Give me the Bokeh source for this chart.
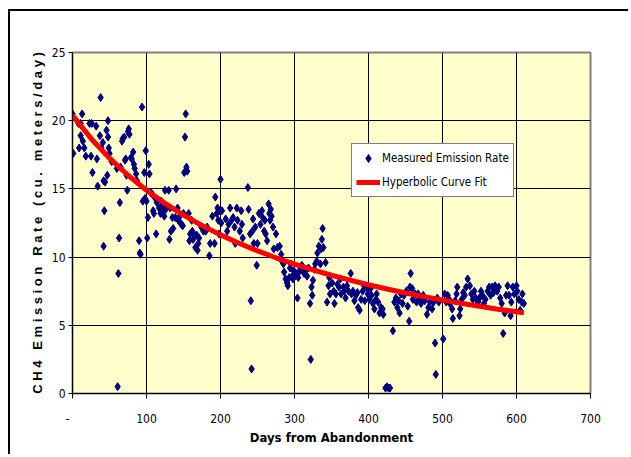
from bokeh.plotting import figure
from bokeh.models import Range1d, FixedTicker, Legend, LegendItem
from bokeh.embed import file_html
from bokeh.resources import INLINE

# ---- data ----
days = [
    0, 1, 8, 11, 13, 11, 14, 9, 16, 18,
    23, 26, 32, 25, 27, 33, 34, 37, 38, 39,
    41, 42, 42, 43, 44, 46, 48, 48, 49, 47,
    50, 53, 60, 61, 62, 63, 64, 65, 67, 68,
    70, 71, 72, 73, 74, 75, 76, 77, 79, 80,
    82, 83, 84, 86, 87, 90, 91, 92, 94, 95,
    97, 98, 99, 100, 101, 102, 103, 104, 106, 108,
    109, 110, 112, 113, 114, 117, 119, 120, 121, 122,
    124, 125, 126, 130, 131, 132, 133, 135, 136, 139,
    140, 142, 143, 144, 146, 147, 149, 150, 151, 152,
    153, 154, 155, 157, 158, 159, 161, 162, 163, 164,
    166, 168, 169, 170, 171, 174, 177, 180, 182, 185,
    186, 189, 192, 193, 195, 196, 197, 198, 199, 200,
    201, 202, 207, 209, 211, 213, 215, 217, 219, 220,
    222, 223, 226, 228, 229, 230, 237, 238, 240, 241,
    242, 243, 244, 245, 247, 249, 250, 252, 254, 256,
    257, 259, 260, 261, 263, 265, 266, 267, 268, 269,
    271, 272, 275, 277, 280, 282, 283, 285, 286, 288,
    290, 291, 293, 294, 295, 297, 298, 299, 302, 304,
    305, 306, 308, 310, 312, 313, 316, 317, 319, 321,
    322, 323, 324, 325, 327, 328, 330, 331, 333, 335,
    336, 337, 338, 339, 342, 344, 346, 347, 348, 351,
    353, 354, 356, 358, 360, 362, 363, 366, 367, 369,
    371, 373, 376, 377, 379, 381, 383, 385, 386, 388,
    390, 392, 394, 395, 397, 399, 401, 403, 404, 406,
    408, 410, 411, 413, 415, 417, 419, 420, 423, 425,
    427, 429, 433, 435, 437, 439, 441, 442, 444, 446,
    448, 451, 453, 455, 456, 457, 459, 460, 463, 465,
    467, 469, 471, 474, 476, 479, 481, 483, 486, 488,
    490, 491, 493, 495, 501, 503, 505, 507, 509, 510,
    513, 514, 517, 519, 520, 523, 524, 526, 528, 530,
    532, 534, 537, 539, 541, 543, 545, 548, 550, 552,
    554, 556, 558, 561, 563, 565, 567, 569, 571, 574,
    576, 578, 580, 582, 584, 586, 588, 590, 592, 593,
    595, 597, 600, 601, 603, 605, 607, 608, 610,
]
rates = [
    20.5, 17.6, 19.8, 19.8, 20.5, 18.9, 18.5, 18.0, 18.0, 17.4,
    19.8, 19.8, 19.6, 17.4, 16.2, 17.2, 15.2, 18.9, 21.7, 18.0,
    18.4, 15.6, 10.8, 13.4, 15.5, 19.3, 20.0, 18.8, 18.0, 16.0,
    17.6, 17.0, 16.5, 0.5, 8.8, 11.4, 14.0, 16.6, 18.5, 18.7,
    18.8, 17.1, 17.2, 16.0, 14.9, 19.2, 19.4, 19.0, 17.3, 17.2,
    17.7, 16.8, 16.5, 16.1, 15.6, 11.2, 10.3, 10.2, 21.0, 14.1,
    16.2, 14.3, 17.8, 14.1, 11.4, 12.9, 16.8, 16.1, 14.7, 14.6,
    13.4, 13.2, 14.3, 11.7, 14.0, 13.6, 13.2, 14.1, 13.4, 13.8,
    13.0, 14.9, 13.5, 14.9, 11.3, 13.6, 11.9, 12.9, 12.1, 12.9,
    15.0, 13.6, 12.7, 12.9, 12.5, 12.4, 12.3, 13.2, 16.2, 18.8,
    20.5, 16.6, 16.3, 13.2, 11.2, 11.7, 12.7, 11.9, 11.3, 11.7,
    10.7, 11.6, 10.5, 11.0, 11.4, 12.2, 11.9, 11.9, 12.2, 10.1,
    11.0, 13.0, 11.0, 14.4, 13.2, 13.6, 12.7, 11.7, 13.4, 15.7,
    12.5, 13.4, 12.8, 11.9, 12.4, 13.6, 12.7, 12.9, 12.2, 11.0,
    13.6, 12.7, 11.9, 13.4, 12.4, 11.4, 15.1, 13.5, 11.7, 6.8,
    1.8, 11.9, 12.8, 11.0, 12.2, 9.4, 11.0, 13.2, 12.4, 13.4,
    12.9, 11.9, 12.7, 11.7, 11.2, 13.9, 13.2, 12.7, 13.5, 13.0,
    12.2, 10.6, 11.7, 10.7, 10.8, 10.2, 9.7, 9.5, 8.9, 8.4,
    8.1, 7.9, 8.5, 9.2, 9.5, 8.6, 8.4, 9.0, 8.8, 7.0,
    8.5, 8.9, 9.2, 9.4, 9.0, 8.8, 9.1, 8.6, 9.2, 6.6,
    2.5, 7.8, 7.2, 8.3, 9.1, 9.5, 9.7, 10.3, 10.8, 9.5,
    10.6, 11.3, 12.1, 10.7, 9.6, 6.7, 7.9, 8.5, 7.3, 8.1,
    7.5, 6.6, 7.3, 8.0, 7.8, 8.4, 7.3, 7.8, 7.5, 7.0,
    7.9, 7.5, 8.8, 7.3, 7.5, 6.8, 7.2, 7.4, 6.3, 6.1,
    6.9, 7.5, 7.9, 6.8, 7.8, 7.3, 6.9, 7.7, 7.2, 6.6,
    6.2, 6.9, 7.3, 6.7, 5.9, 6.3, 6.2, 5.8, 0.4, 0.5,
    0.4, 0.4, 4.6, 6.7, 7.0, 6.3, 6.8, 5.9, 7.3, 6.6,
    7.2, 7.5, 6.4, 5.3, 7.8, 8.8, 7.7, 6.9, 7.3, 6.7,
    7.3, 6.9, 6.6, 7.2, 6.8, 5.8, 6.3, 6.7, 6.2, 6.7,
    3.7, 1.4, 7.0, 6.7, 4.0, 7.3, 6.7, 7.2, 6.9, 6.6,
    6.2, 5.5, 6.8, 7.3, 7.8, 5.7, 6.2, 6.9, 7.4, 7.2,
    7.8, 8.4, 7.9, 7.3, 6.9, 7.5, 7.0, 6.7, 7.0, 7.5,
    7.2, 6.6, 6.9, 7.5, 7.8, 7.2, 7.8, 7.4, 7.9, 7.5,
    7.8, 7.0, 6.6, 4.4, 5.9, 7.2, 7.9, 7.2, 5.7, 6.7,
    7.8, 7.3, 7.9, 7.5, 6.9, 6.1, 6.7, 7.3, 6.6,
]
fit_days = [0, 25, 50, 75, 100, 125, 150, 175, 200, 225, 250, 275, 300,
            325, 350, 375, 400, 425, 450, 475, 500, 525, 550, 575, 600, 610]
fit_rate = [20.4, 18.7, 17.25, 16.0, 14.9, 13.94, 13.08, 12.32, 11.63, 11.02,
            10.46, 9.95, 9.48, 9.06, 8.67, 8.31, 7.97, 7.66, 7.37, 7.10,
            6.85, 6.61, 6.39, 6.18, 5.99, 5.91]
x_ticks = [0, 100, 200, 300, 400, 500, 600, 700]
y_ticks = [0, 5, 10, 15, 20, 25]
series_names = ["Measured Emission Rate", "Hyperbolic Curve Fit"]
x_title = "Days from Abandonment"
y_title_words = ["CH4", "Emission", "Rate", "(cu.", "meters/day)"]

NARROW = "DejaVu Sans Condensed"
NB = "\u00a0"
y_title = (NB * 3).join(NB.join(w) for w in y_title_words)
x_label_overrides = {0: "-" + NB * 3}

p = figure(width=620, height=445, output_backend="svg", toolbar_location=None,
           x_range=Range1d(0, 700), y_range=Range1d(0, 25),
           min_border_left=62, min_border_right=40, min_border_top=41,
           min_border_bottom=63)
p.background_fill_color = "#FFFFCC"
p.border_fill_color = "white"
p.outline_line_color = "#808080"
p.outline_line_width = 2
p.styles = {"margin-top": "9px", "margin-left": "8px",
            "border-top": "2px solid black", "border-left": "2px solid black"}

pts = p.scatter(x=days, y=rates, marker="diamond", size=8,
                fill_color="#000080", line_color="#000080")
fit = p.line(x=fit_days, y=fit_rate, line_color="#FF0000", line_width=5)

for ax in (p.xaxis[0], p.yaxis[0]):
    ax.axis_line_color = "black"
    ax.major_tick_line_color = "black"
    ax.major_tick_in = 0
    ax.minor_tick_line_color = None
    ax.major_label_text_font = NARROW
    ax.major_label_text_font_size = "12px"
    ax.major_label_text_color = "black"
    ax.axis_label_text_font_style = "bold"
    ax.axis_label_text_color = "black"

p.xaxis.ticker = FixedTicker(ticks=x_ticks)
p.yaxis.ticker = FixedTicker(ticks=y_ticks)
p.xaxis.major_label_overrides = x_label_overrides
p.xaxis.major_tick_out = 5
p.yaxis.major_tick_out = 4
p.xaxis.major_label_standoff = 13
p.yaxis.major_label_standoff = 3
p.xaxis.axis_label = x_title
p.xaxis.axis_label_text_font = NARROW
p.xaxis.axis_label_text_font_size = "13px"
p.xaxis.axis_label_standoff = 1
p.yaxis.axis_label = y_title
p.yaxis.axis_label_text_font = "Liberation Sans"
p.yaxis.axis_label_text_font_size = "13px"
p.yaxis.axis_label_standoff = 4

p.xgrid.ticker = FixedTicker(ticks=x_ticks)
p.ygrid.ticker = FixedTicker(ticks=y_ticks)
p.grid.grid_line_color = "black"
p.grid.grid_line_width = 1

legend = Legend(items=[LegendItem(label=series_names[0], renderers=[pts]),
                       LegendItem(label=series_names[1], renderers=[fit])],
                location=(279, 196))
legend.background_fill_color = "white"
legend.background_fill_alpha = 1
legend.border_line_color = "black"
legend.border_line_width = 1
legend.label_text_font = NARROW
legend.label_text_font_size = "11.5px"
legend.label_text_color = "black"
legend.padding = 4
legend.spacing = 4
legend.margin = 0
legend.label_height = 20
legend.glyph_height = 20
legend.glyph_width = 24
legend.label_standoff = 2
p.add_layout(legend, "center")

open("out.html", "w").write(file_html(p, INLINE))
